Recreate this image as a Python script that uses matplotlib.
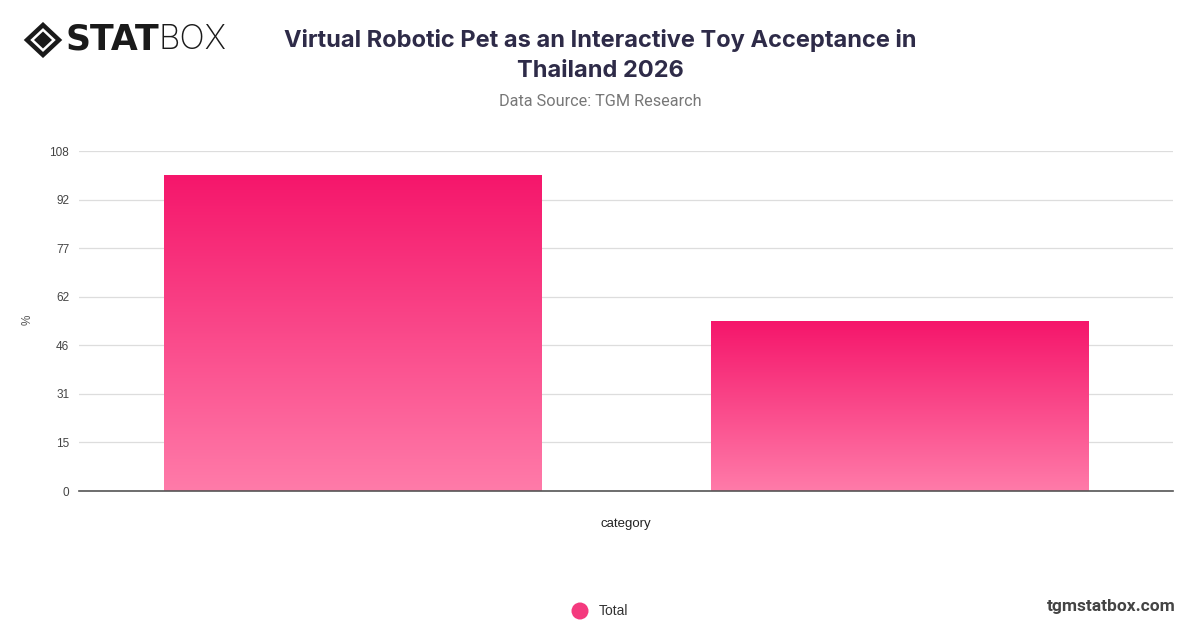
import matplotlib
matplotlib.use("Agg")
import matplotlib.pyplot as plt
import numpy as np
from matplotlib.colors import LinearSegmentedColormap
from matplotlib.patches import Polygon

categories = ["Yes", "No"]
values = [100.4, 54.0]
series_name = "Total"
y_max = 108
y_ticks = [0, 15.43, 30.86, 46.29, 61.71, 77.14, 92.57, 108]
y_tick_labels = ["0", "15", "31", "46", "62", "77", "92", "108"]

plt.rcParams['font.family'] = ['Inter', 'DejaVu Sans']

fig = plt.figure(figsize=(12, 6.28), dpi=100)
ax = fig.add_axes([79/1200, (628-491)/628, (1173-79)/1200, (491-151)/628])

cmap = LinearSegmentedColormap.from_list("pinkgrad", ["#FF7BA9", "#F5166B"])
x = np.arange(len(categories))
bars = ax.bar(x, values, width=0.69, color="none", edgecolor="none", zorder=3)
grad = np.linspace(0, 1, 256).reshape(-1, 1)
for b in bars:
    x0, y0 = b.get_x(), b.get_y()
    w, h = b.get_width(), b.get_height()
    im = ax.imshow(grad, cmap=cmap, aspect="auto", origin="lower",
                   extent=[x0, x0 + w, y0, y0 + h], zorder=3, interpolation="bicubic")
    im.set_clip_path(b)

ax.set_xlim(-0.5, len(categories) - 0.5)
ax.set_ylim(0, y_max)
ax.set_yticks(y_ticks)
ax.set_yticklabels(y_tick_labels, fontsize=8.5, color="#444444",
                   family=["Liberation Sans", "DejaVu Sans"])
ax.set_xticks([])
ax.tick_params(axis="y", length=0, pad=7)
ax.grid(axis="y", color="#DDDDDD", linewidth=0.9, zorder=0)
for s in ["top", "right", "left"]:
    ax.spines[s].set_visible(False)
ax.spines["bottom"].set_color("#555555")
ax.spines["bottom"].set_linewidth(1.2)
ax.spines["bottom"].set_zorder(4)

# axis labels
fig.text(28/1200, 1 - 320/628, "%", rotation=90, fontsize=8.5, color="#555555",
         ha="center", va="center", family=["Liberation Sans", "DejaVu Sans"])
fig.text(626/1200, 1 - 524/628, "category", fontsize=9.5, color="#222222",
         ha="center", va="center", family=["Liberation Sans", "DejaVu Sans"])

# title
fig.text(600/1200, 1 - 40/628, "Virtual Robotic Pet as an Interactive Toy Acceptance in",
         fontsize=17.0, fontweight="bold", color="#2E2B48", ha="center", va="center")
fig.text(600/1200, 1 - 71/628, "Thailand 2026",
         fontsize=17.0, fontweight="bold", color="#2E2B48", ha="center", va="center")
fig.text(600/1200, 1 - 101.5/628, "Data Source: TGM Research",
         fontsize=11.7, color="#777777", ha="center", va="center",
         family=["Roboto", "DejaVu Sans"])

# overlay axes in pixel coordinates
lax = fig.add_axes([0, 0, 1, 1], facecolor="none")
lax.set_xlim(0, 1200)
lax.set_ylim(628, 0)
lax.axis("off")

# legend
lax.scatter([580], [611], s=150, color="#F43A7E", edgecolor="none")
fig.text(599/1200, 1 - 611/628, series_name, fontsize=10, color="#333333",
         ha="left", va="center", family=["Liberation Sans", "DejaVu Sans"])

# watermark
fig.text(1176/1200, 1 - 606/628, "tgmstatbox.com", fontsize=12.5, fontweight="bold",
         color="#444444", ha="right", va="center", family=["Roboto", "DejaVu Sans"])

# logo
cx, cy = 43, 40
outer = Polygon([(cx-16, cy), (cx, cy-15), (cx+16, cy), (cx, cy+15)], closed=True,
                fill=False, edgecolor="#1A1A1A", linewidth=3.2)
inner = Polygon([(cx-9, cy), (cx, cy-8.5), (cx+9, cy), (cx, cy+8.5)], closed=True,
                facecolor="#1A1A1A", edgecolor="none")
lax.add_patch(outer)
lax.add_patch(inner)
lax.text(65, 40, "STAT", fontsize=25, fontweight="heavy", color="#1A1A1A",
         ha="left", va="center", family=["DejaVu Sans"])
lax.text(159, 40, "BOX", fontsize=24, fontweight="light", color="#1A1A1A",
         ha="left", va="center", family=["Inter", "DejaVu Sans"])

fig.savefig("out.png", dpi=100)
